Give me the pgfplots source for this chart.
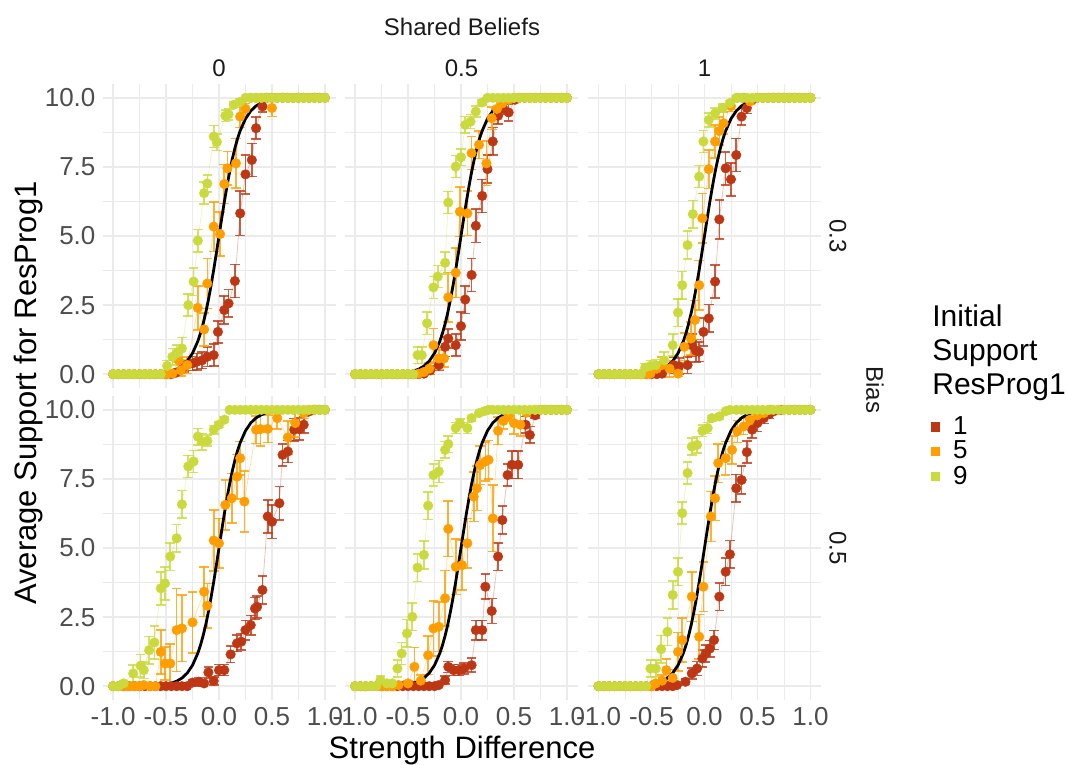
\documentclass[border=0pt]{standalone}
\usepackage{fontspec}
\setmainfont{Liberation Sans}
\usepackage{pgfplots}
\pgfplotsset{compat=1.18}
\definecolor{cA}{RGB}{190,55,20}
\definecolor{cB}{RGB}{255,158,0}
\definecolor{cC}{RGB}{202,218,60}
\definecolor{gridc}{RGB}{235,235,235}
\definecolor{tickc}{RGB}{77,77,77}
\definecolor{stripc}{RGB}{26,26,26}

\pgfplotsset{
  panel/.style={scale only axis, width=116.5pt, height=152pt,
    xmin=-1.1, xmax=1.1, ymin=-0.5, ymax=10.5,
    axis line style={draw=none}, tick style={draw=none},
    xtick={-1,-0.5,0,0.5,1}, ytick={0,2.5,5,7.5,10},
    minor xtick={-0.75,-0.25,0.25,0.75}, minor ytick={1.25,3.75,6.25,8.75},
    grid=both, major grid style={color=gridc, line width=0.7pt},
    minor grid style={color=gridc, line width=0.35pt},
    xticklabels={}, yticklabels={},
    tick label style={font=\fontsize{13}{13}\selectfont, text=tickc},
    anchor=south west},
  ylab/.style={yticklabels={0.0,2.5,5.0,7.5,10.0}},
  xlab/.style={xticklabels={-1.0,-0.5,0.0,0.5,1.0}},
  ser/.style={color=#1, line width=0.4pt, draw opacity=0.3, mark=*, mark size=2.4pt,
    mark options={draw opacity=1, fill opacity=1, line width=0.2pt},
    error bars/y dir=both, error bars/y explicit, error bars/error mark=-,
    error bars/error bar style={line width=0.8pt, draw opacity=0.8},
    error bars/error mark options={rotate=90, line width=0.8pt, mark size=2.4pt, draw opacity=0.8}},
  theo/.style={black, line width=1.4pt, no marks},
}

% theoretical curve, same in every panel
\newcommand{\theocurve}{%
\addplot[theo, forget plot] coordinates {
(-1,0.0005) (-0.8,0.0034) (-0.6,0.0247) (-0.5,0.0669) (-0.45,0.1099) (-0.4,0.1799)
(-0.35,0.2931) (-0.3,0.4743) (-0.25,0.7586) (-0.2,1.192) (-0.175,1.480) (-0.15,1.824)
(-0.125,2.227) (-0.1,2.689) (-0.075,3.208) (-0.05,3.775) (-0.025,4.378) (0,5)
(0.025,5.622) (0.05,6.225) (0.075,6.792) (0.1,7.311) (0.125,7.773) (0.15,8.176)
(0.175,8.520) (0.2,8.808) (0.25,9.241) (0.3,9.526) (0.35,9.707) (0.4,9.820)
(0.45,9.890) (0.5,9.933) (0.6,9.975) (0.8,9.997) (1,10)
};}

\begin{document}
\begin{tikzpicture}
\path[use as bounding box] (0,0) rectangle (533.5pt,382.5pt);

% ---------- row 1: Bias 0.3 ----------
\begin{axis}[panel, ylab, at={(51.25pt,188.5pt)}]
\addplot[ser=cA, forget plot] coordinates {
(-1,0)(-0.95,0)(-0.9,0)(-0.85,0)(-0.8,0)(-0.75,0)(-0.7,0)(-0.65,0)(-0.6,0)(-0.55,0)(-0.5,0)(-0.45,0)
(-0.41,0.05) +- (0,0.1) (-0.33,0.27) +- (0,0.2) (-0.25,0.39) +- (0,0.25) (-0.21,0.45) +- (0,0.3)
(-0.16,0.5) +- (0,0.3) (-0.11,0.63) +- (0,0.35) (-0.05,0.69) +- (0,0.4) (-0.01,1.53) +- (0,0.4)
(0.05,2.32) +- (0,0.5) (0.09,2.56) +- (0,0.5) (0.15,3.37) +- (0,0.6) (0.20,5.82) +- (0,0.8)
(0.25,7.23) +- (0,0.7) (0.31,7.75) +- (0,0.6) (0.35,8.9) +- (0,0.4) (0.41,9.69) +- (0,0.2)
(0.45,10)(0.5,10)(0.55,10)(0.6,10)(0.65,10)(0.7,10)(0.75,10)(0.8,10)(0.85,10)(0.9,10)(0.95,10)(1,10)
};
\addplot[ser=cB, forget plot] coordinates {
(-1,0)(-0.95,0)(-0.9,0)(-0.85,0)(-0.8,0)(-0.75,0)(-0.7,0)(-0.65,0)(-0.6,0)(-0.55,0)(-0.5,0)
(-0.44,0.02) +- (0,0.1) (-0.38,0.5) +- (0,0.4) (-0.36,0.14) +- (0,0.2) (-0.30,0.33) +- (0,0.3)
(-0.20,2.4) +- (0,0.8) (-0.14,1.62) +- (0,0.6) (-0.11,3.28) +- (0,0.9) (-0.05,5.34) +- (0,0.9)
(0.01,5.07) +- (0,0.8) (0.05,6.88) +- (0,0.7) (0.08,7.45) +- (0,0.6) (0.16,7.63) +- (0,0.9)
(0.20,9.32) +- (0,0.4) (0.25,9.6) +- (0,0.2) (0.30,10) (0.35,10) (0.40,10) (0.45,10)
(0.50,9.63) +- (0,0.3) (0.55,10)(0.6,10)(0.65,10)(0.7,10)(0.75,10)(0.8,10)(0.85,10)(0.9,10)(0.95,10)(1,10)
};
\addplot[ser=cC, forget plot] coordinates {
(-1,0)(-0.95,0)(-0.9,0)(-0.85,0)(-0.8,0)(-0.75,0)(-0.7,0)(-0.65,0)(-0.6,0)(-0.55,0)
(-0.49,0.3) +- (0,0.2) (-0.44,0.63) +- (0,0.3) (-0.40,0.75) +- (0,0.3) (-0.35,0.93) +- (0,0.4)
(-0.29,2.5) +- (0,0.4) (-0.24,3.35) +- (0,0.5) (-0.20,4.83) +- (0,0.4) (-0.14,6.55) +- (0,0.4)
(-0.11,6.9) +- (0,0.3) (-0.05,8.6) +- (0,0.4) (-0.02,8.4) +- (0,0.3) (0.06,9.35) +- (0,0.2)
(0.09,9.4) +- (0,0.2) (0.14,9.75) +- (0,0.1) (0.20,9.85) +- (0,0.1)
(0.25,10)(0.3,10)(0.35,10)(0.4,10)(0.45,10)(0.5,10)(0.55,10)(0.6,10)(0.65,10)(0.7,10)(0.75,10)(0.8,10)(0.85,10)(0.9,10)(0.95,10)(1,10)
};
\theocurve
\end{axis}

\begin{axis}[panel, at={(172.25pt,188.5pt)}]
\addplot[ser=cA, forget plot] coordinates {
(-1,0)(-0.95,0)(-0.9,0)(-0.85,0)(-0.8,0)(-0.75,0)(-0.7,0)(-0.65,0)(-0.6,0)(-0.55,0)(-0.5,0)(-0.45,0)(-0.4,0)
(-0.35,0.02) (-0.29,0.14) +- (0,0.15) (-0.21,0.33) +- (0,0.2) (-0.15,0.99) +- (0,0.35)
(-0.12,1.29) +- (0,0.35) (-0.05,1.05) +- (0,0.4) (0.00,1.74) +- (0,0.5) (0.04,2.7) +- (0,0.5)
(0.10,3.59) +- (0,0.6) (0.14,5.37) +- (0,0.6) (0.20,6.45) +- (0,0.6) (0.25,7.42) +- (0,0.5)
(0.30,8.42) +- (0,0.5) (0.35,9.35) +- (0,0.3) (0.40,9.6) +- (0,0.2) (0.45,9.47) +- (0,0.3)
(0.51,9.93) +- (0,0.1)
(0.55,10)(0.6,10)(0.65,10)(0.7,10)(0.75,10)(0.8,10)(0.85,10)(0.9,10)(0.95,10)(1,10)
};
\addplot[ser=cB, forget plot] coordinates {
(-1,0)(-0.95,0)(-0.9,0)(-0.85,0)(-0.8,0)(-0.75,0)(-0.7,0)(-0.65,0)(-0.6,0)(-0.55,0)(-0.5,0)(-0.45,0)
(-0.40,0.02) (-0.35,0.08) +- (0,0.1) (-0.30,0.2) +- (0,0.2) (-0.26,1.05) +- (0,0.6)
(-0.21,0.57) +- (0,0.4) (-0.16,0.57) +- (0,0.3) (-0.12,2.78) +- (0,0.9) (-0.05,3.67) +- (0,0.9)
(-0.01,5.88) +- (0,0.9) (0.06,5.82) +- (0,0.8) (0.10,8.0) +- (0,0.6) (0.17,8.3) +- (0,0.5)
(0.24,7.63) +- (0,0.8) (0.29,9.26) +- (0,0.4) (0.34,9.6) +- (0,0.3) (0.39,9.8) +- (0,0.2)
(0.45,9.93) +- (0,0.1)
(0.5,10)(0.55,10)(0.6,10)(0.65,10)(0.7,10)(0.75,10)(0.8,10)(0.85,10)(0.9,10)(0.95,10)(1,10)
};
\addplot[ser=cC, forget plot] coordinates {
(-1,0)(-0.95,0)(-0.9,0)(-0.85,0)(-0.8,0)(-0.75,0)(-0.7,0)(-0.65,0)(-0.6,0)(-0.55,0)(-0.5,0)(-0.45,0)
(-0.41,0.69) +- (0,0.3) (-0.37,0.69) +- (0,0.3) (-0.32,1.84) +- (0,0.4) (-0.26,3.14) +- (0,0.4)
(-0.22,3.53) +- (0,0.4) (-0.15,4.03) +- (0,0.4) (-0.12,6.21) +- (0,0.4) (-0.05,7.51) +- (0,0.4)
(0.00,7.85) +- (0,0.3) (0.04,9.02) +- (0,0.3) (0.09,9.14) +- (0,0.25) (0.14,9.5) +- (0,0.2)
(0.20,9.83) +- (0,0.1)
(0.25,10)(0.3,10)(0.35,10)(0.4,10)(0.45,10)(0.5,10)(0.55,10)(0.6,10)(0.65,10)(0.7,10)(0.75,10)(0.8,10)(0.85,10)(0.9,10)(0.95,10)(1,10)
};
\theocurve
\end{axis}

\begin{axis}[panel, at={(294pt,188.5pt)},
  legend style={at={(axis description cs:1.470,-0.088)}, anchor=north west, draw=none, fill=none,
    inner sep=0pt, row sep=1pt, font=\fontsize{13}{13}\selectfont,
    nodes={inner ysep=0.5pt, inner xsep=2pt},
    /tikz/every odd column/.append style={column sep=4.75pt}},
  legend cell align=left]
\addplot[ser=cA, forget plot] coordinates {
(-1,0)(-0.95,0)(-0.9,0)(-0.85,0)(-0.8,0)(-0.75,0)(-0.7,0)(-0.65,0)(-0.6,0)(-0.55,0)(-0.5,0)(-0.45,0)
(-0.40,0.02) (-0.29,0.33) +- (0,0.3) (-0.24,0.29) +- (0,0.3) (-0.16,0.33) +- (0,0.3)
(-0.12,1.05) +- (0,0.4) (-0.08,0.85) +- (0,0.4) (-0.05,0.81) +- (0,0.35) (-0.01,1.53) +- (0,0.5)
(0.04,2.02) +- (0,0.5) (0.10,3.35) +- (0,0.6) (0.14,5.6) +- (0,0.7) (0.20,7.45) +- (0,0.6)
(0.25,7.05) +- (0,0.6) (0.30,7.93) +- (0,0.6) (0.35,9.32) +- (0,0.3) (0.40,9.63) +- (0,0.2)
(0.45,9.93) +- (0,0.1)
(0.5,10)(0.55,10)(0.6,10)(0.65,10)(0.7,10)(0.75,10)(0.8,10)(0.85,10)(0.9,10)(0.95,10)(1,10)
};
\addplot[ser=cB, forget plot] coordinates {
(-1,0)(-0.95,0)(-0.9,0)(-0.85,0)(-0.8,0)(-0.75,0)(-0.7,0)(-0.65,0)(-0.6,0)(-0.55,0)
(-0.51,0.02) (-0.45,0.2) +- (0,0.2) (-0.40,0.33) +- (0,0.3) (-0.33,0.2) +- (0,0.3)
(-0.25,0.02) +- (0,0.1) (-0.19,0.99) +- (0,0.5) (-0.13,1.29) +- (0,0.6) (-0.09,1.96) +- (0,0.7)
(-0.05,3.22) +- (0,0.9) (-0.02,5.64) +- (0,0.9) (0.04,7.42) +- (0,0.7) (0.10,8.42) +- (0,0.6)
(0.14,8.8) +- (0,0.5) (0.18,9.08) +- (0,0.4) (0.25,9.7) +- (0,0.2) (0.31,10) (0.37,10)
(0.43,9.87) +- (0,0.1)
(0.5,10)(0.55,10)(0.6,10)(0.65,10)(0.7,10)(0.75,10)(0.8,10)(0.85,10)(0.9,10)(0.95,10)(1,10)
};
\addplot[ser=cC, forget plot] coordinates {
(-1,0)(-0.95,0)(-0.9,0)(-0.85,0)(-0.8,0)(-0.75,0)(-0.7,0)(-0.65,0)(-0.6,0)
(-0.56,0.24) +- (0,0.15) (-0.51,0.3) +- (0,0.2) (-0.46,0.33) +- (0,0.2) (-0.38,0.5) +- (0,0.3)
(-0.30,1.05) +- (0,0.4) (-0.25,2.23) +- (0,0.5) (-0.21,3.22) +- (0,0.5) (-0.16,4.67) +- (0,0.5)
(-0.11,5.79) +- (0,0.5) (-0.05,7.15) +- (0,0.4) (-0.01,8.42) +- (0,0.4) (0.04,9.2) +- (0,0.25)
(0.10,9.44) +- (0,0.2) (0.17,9.63) +- (0,0.15) (0.24,9.81) +- (0,0.1)
(0.3,10)(0.35,10)(0.4,10)(0.45,10)(0.5,10)(0.55,10)(0.6,10)(0.65,10)(0.7,10)(0.75,10)(0.8,10)(0.85,10)(0.9,10)(0.95,10)(1,10)
};
\theocurve
\addlegendimage{only marks, mark=square*, mark size=2.2pt, color=cA}
\addlegendentry{1}
\addlegendimage{only marks, mark=square*, mark size=2.2pt, color=cB}
\addlegendentry{5}
\addlegendimage{only marks, mark=square*, mark size=2.2pt, color=cC}
\addlegendentry{9}
\end{axis}

% ---------- row 2: Bias 0.5 ----------
\begin{axis}[panel, ylab, xlab, at={(51.25pt,32.5pt)}]
\addplot[ser=cA, forget plot] coordinates {
(-1,0)(-0.95,0)(-0.9,0)(-0.85,0)(-0.8,0)(-0.75,0)(-0.7,0)(-0.65,0)(-0.6,0)(-0.55,0)(-0.5,0)(-0.45,0)(-0.4,0)(-0.35,0)(-0.3,0)
(-0.25,0.13) +- (0,0.1) (-0.19,0.16) +- (0,0.15) (-0.14,0.1) (-0.10,0.5) +- (0,0.2)
(-0.05,0.19) +- (0,0.15) (0.00,0.58) +- (0,0.2) (0.05,0.58) +- (0,0.2) (0.11,1.15) +- (0,0.3)
(0.17,1.55) +- (0,0.3) (0.21,1.61) +- (0,0.3) (0.25,2.03) +- (0,0.35) (0.30,2.21) +- (0,0.35)
(0.34,2.81) +- (0,0.4) (0.36,2.87) +- (0,0.4) (0.41,3.48) +- (0,0.5) (0.46,6.14) +- (0,0.6)
(0.50,5.95) +- (0,0.6) (0.57,6.62) +- (0,0.6) (0.60,8.37) +- (0,0.4) (0.65,8.49) +- (0,0.4)
(0.71,9.28) +- (0,0.4) (0.76,9.3) +- (0,0.4) (0.80,9.46) +- (0,0.3) (0.85,9.94) +- (0,0.1)
(0.9,10)(0.95,10)(1,10)
};
\addplot[ser=cB, forget plot] coordinates {
(-1,0)(-0.95,0)(-0.9,0)(-0.85,0)(-0.8,0)(-0.75,0)(-0.71,0.04)(-0.65,0)(-0.6,0)
(-0.55,1.24) +- (0,0.8) (-0.51,0.82) +- (0,0.6) (-0.46,0.82) +- (0,0.7) (-0.40,2.03) +- (0,1.5)
(-0.35,2.09) +- (0,1.2) (-0.25,2.31) +- (0,1.1) (-0.14,3.42) +- (0,0.9) (-0.11,2.91) +- (0,0.8)
(-0.05,5.27) +- (0,1.1) (0.00,5.17) +- (0,0.9) (0.06,6.56) +- (0,0.9) (0.12,6.8) +- (0,0.9)
(0.17,7.58) +- (0,0.8) (0.20,8.25) +- (0,0.6) (0.24,6.68) +- (0,1.1) (0.35,9.28) +- (0,0.5)
(0.39,9.3) +- (0,0.6) (0.46,9.31) +- (0,0.5) (0.55,9.7) +- (0,0.4) (0.65,9.0) +- (0,0.6)
(0.72,9.52) +- (0,0.5) (0.80,9.88) +- (0,0.2)
(0.85,10)(0.9,10)(0.95,10)(1,10)
};
\addplot[ser=cC, forget plot] coordinates {
(-1,0)(-0.95,0)
(-0.90,0.1) +- (0,0.1) (-0.81,0.46) +- (0,0.3) (-0.74,0.74) +- (0,0.4) (-0.71,0.58) +- (0,0.3)
(-0.66,1.3) +- (0,0.5) (-0.61,1.58) +- (0,0.6) (-0.55,3.54) +- (0,0.6) (-0.51,3.72) +- (0,0.6)
(-0.46,4.69) +- (0,0.5) (-0.40,5.35) +- (0,0.5) (-0.35,6.58) +- (0,0.5) (-0.29,7.95) +- (0,0.4)
(-0.24,8.13) +- (0,0.4) (-0.20,9.03) +- (0,0.3) (-0.16,8.85) +- (0,0.3) (-0.11,8.88) +- (0,0.2)
(-0.05,9.28) +- (0,0.15) (0.00,9.46) +- (0,0.1) (0.05,9.64) +- (0,0.1)
(0.1,10)(0.15,10)(0.2,10)(0.25,10)(0.3,10)(0.35,10)(0.4,10)(0.45,10)(0.5,10)(0.55,10)(0.6,10)(0.65,10)(0.7,10)(0.75,10)(0.8,10)(0.85,10)(0.9,10)(0.95,10)(1,10)
};
\theocurve
\end{axis}

\begin{axis}[panel, xlab, at={(172.25pt,32.5pt)}]
\addplot[ser=cA, forget plot] coordinates {
(-1,0)(-0.95,0)(-0.9,0)(-0.85,0)(-0.8,0)(-0.75,0)(-0.7,0)(-0.65,0)(-0.6,0)(-0.55,0)(-0.5,0)(-0.45,0)(-0.4,0)(-0.35,0)(-0.3,0)(-0.25,0)
(-0.21,0.04) (-0.15,0.22) +- (0,0.15) (-0.12,0.7) +- (0,0.2) (-0.07,0.58) +- (0,0.2)
(-0.02,0.58) +- (0,0.2) (0.03,0.64) +- (0,0.2) (0.10,0.76) +- (0,0.25) (0.14,2.03) +- (0,0.35)
(0.20,2.03) +- (0,0.35) (0.23,3.6) +- (0,0.45) (0.29,2.72) +- (0,0.45) (0.35,4.69) +- (0,0.5)
(0.39,6.01) +- (0,0.5) (0.44,7.64) +- (0,0.4) (0.48,8.01) +- (0,0.5) (0.54,8.01) +- (0,0.5)
(0.61,9.46) +- (0,0.3) (0.65,9.09) +- (0,0.3) (0.70,9.8) +- (0,0.1)
(0.75,10)(0.8,10)(0.85,10)(0.9,10)(0.95,10)(1,10)
};
\addplot[ser=cB, forget plot] coordinates {
(-1,0)(-0.95,0)(-0.9,0)(-0.85,0)(-0.8,0)(-0.75,0)(-0.7,0)(-0.65,0)
(-0.59,0.04) (-0.50,0.1) +- (0,0.1) (-0.44,0.7) +- (0,0.7) (-0.38,0.2) +- (0,0.2)
(-0.31,1.12) +- (0,0.7) (-0.26,2.09) +- (0,1.0) (-0.21,2.15) +- (0,0.9) (-0.15,3.18) +- (0,1.0)
(-0.12,5.69) +- (0,1.0) (-0.05,4.32) +- (0,1.0) (0.01,4.38) +- (0,0.9) (0.06,5.17) +- (0,0.9)
(0.12,6.86) +- (0,0.9) (0.15,7.16) +- (0,0.8) (0.18,8.0) +- (0,0.7) (0.23,8.13) +- (0,0.7)
(0.26,8.19) +- (0,0.7) (0.30,6.07) +- (0,1.2) (0.35,9.24) +- (0,0.5) (0.40,9.6) +- (0,0.3)
(0.45,9.8) +- (0,0.2) (0.50,9.52) +- (0,0.4) (0.56,9.46) +- (0,0.4) (0.62,9.9) +- (0,0.1)
(0.7,10)(0.75,10)(0.8,10)(0.85,10)(0.9,10)(0.95,10)(1,10)
};
\addplot[ser=cC, forget plot] coordinates {
(-1,0)(-0.95,0)(-0.9,0)(-0.85,0)(-0.8,0)
(-0.76,0.22) +- (0,0.15) (-0.70,0.1) (-0.65,0.1) (-0.60,0.64) +- (0,0.3) (-0.56,1.18) +- (0,0.4)
(-0.51,1.91) +- (0,0.5) (-0.46,2.51) +- (0,0.5) (-0.41,4.29) +- (0,0.5) (-0.35,4.75) +- (0,0.5)
(-0.31,6.53) +- (0,0.5) (-0.26,7.64) +- (0,0.4) (-0.21,7.77) +- (0,0.4) (-0.15,8.55) +- (0,0.3)
(-0.12,8.76) +- (0,0.3) (-0.05,9.34) +- (0,0.2) (-0.01,9.52) +- (0,0.15) (0.06,9.34) +- (0,0.2)
(0.10,9.7) +- (0,0.1) (0.17,9.88) (0.22,9.95)
(0.26,10)(0.3,10)(0.35,10)(0.4,10)(0.45,10)(0.5,10)(0.55,10)(0.6,10)(0.65,10)(0.7,10)(0.75,10)(0.8,10)(0.85,10)(0.9,10)(0.95,10)(1,10)
};
\theocurve
\end{axis}

\begin{axis}[panel, xlab, at={(294pt,32.5pt)}]
\addplot[ser=cA, forget plot] coordinates {
(-1,0)(-0.95,0)(-0.9,0)(-0.85,0)(-0.8,0)(-0.75,0)(-0.7,0)(-0.65,0)(-0.6,0)(-0.55,0)(-0.5,0)(-0.45,0)(-0.4,0)(-0.35,0)(-0.3,0)
(-0.26,0.04) (-0.18,0.16) +- (0,0.1) (-0.12,0.46) +- (0,0.2) (-0.07,0.64) +- (0,0.25)
(-0.02,1.0) +- (0,0.3) (0.01,1.18) +- (0,0.3) (0.05,1.36) +- (0,0.3) (0.09,1.67) +- (0,0.35)
(0.14,3.24) +- (0,0.5) (0.20,4.14) +- (0,0.5) (0.24,4.77) +- (0,0.5) (0.30,7.16) +- (0,0.5)
(0.35,7.46) +- (0,0.5) (0.40,8.47) +- (0,0.4) (0.45,9.28) +- (0,0.3) (0.50,9.52) +- (0,0.3)
(0.56,9.7) +- (0,0.2) (0.61,9.84) +- (0,0.15) (0.65,9.94) +- (0,0.1)
(0.72,10)(0.8,10)(0.85,10)(0.9,10)(0.95,10)(1,10)
};
\addplot[ser=cB, forget plot] coordinates {
(-1,0)(-0.95,0)(-0.9,0)(-0.85,0)(-0.8,0)(-0.75,0)(-0.7,0)(-0.65,0)(-0.6,0)(-0.55,0)(-0.5,0)
(-0.46,0.1) +- (0,0.1) (-0.40,0.2) +- (0,0.2) (-0.36,0.58) +- (0,0.4) (-0.30,0.3) +- (0,0.3)
(-0.25,1.24) +- (0,0.7) (-0.21,1.67) +- (0,0.8) (-0.12,3.24) +- (0,0.9) (-0.05,1.79) +- (0,0.8)
(-0.01,3.6) +- (0,0.9) (0.06,6.14) +- (0,0.9) (0.10,6.8) +- (0,0.8) (0.13,8.07) +- (0,0.7)
(0.20,8.25) +- (0,0.6) (0.26,8.55) +- (0,0.5) (0.31,9.22) +- (0,0.4) (0.37,9.4) +- (0,0.3)
(0.43,9.64) +- (0,0.2) (0.50,9.8) +- (0,0.1) (0.56,9.88)
(0.62,10)(0.7,10)(0.75,10)(0.8,10)(0.85,10)(0.9,10)(0.95,10)(1,10)
};
\addplot[ser=cC, forget plot] coordinates {
(-1,0)(-0.95,0)(-0.9,0)(-0.85,0)(-0.8,0)(-0.75,0)(-0.7,0)(-0.65,0)(-0.6,0)(-0.55,0)
(-0.51,0.64) +- (0,0.3) (-0.46,0.64) +- (0,0.3) (-0.41,1.34) +- (0,0.5) (-0.35,1.97) +- (0,0.5)
(-0.30,3.3) +- (0,0.5) (-0.25,4.14) +- (0,0.5) (-0.21,6.26) +- (0,0.4) (-0.16,7.71) +- (0,0.4)
(-0.12,8.67) +- (0,0.3) (-0.07,8.73) +- (0,0.3) (-0.02,9.24) +- (0,0.2) (0.03,9.34) +- (0,0.2)
(0.07,9.7) +- (0,0.1) (0.14,9.76) +- (0,0.1) (0.20,9.95)
(0.24,10)(0.3,10)(0.35,10)(0.4,10)(0.45,10)(0.5,10)(0.55,10)(0.6,10)(0.65,10)(0.7,10)(0.75,10)(0.8,10)(0.85,10)(0.9,10)(0.95,10)(1,10)
};
\theocurve
\end{axis}

% ---------- strips, titles, legend title ----------
\node[font=\fontsize{12}{12}\selectfont, text=stripc] at (231pt,369pt) {Shared Beliefs};
\node[font=\fontsize{12}{12}\selectfont, text=stripc] at (109.5pt,348.5pt) {0};
\node[font=\fontsize{12}{12}\selectfont, text=stripc] at (230.75pt,348.5pt) {0.5};
\node[font=\fontsize{12}{12}\selectfont, text=stripc] at (352.25pt,348.5pt) {1};
\node[font=\fontsize{12}{12}\selectfont, text=stripc, rotate=-90] at (419pt,264.5pt) {0.3};
\node[font=\fontsize{12}{12}\selectfont, text=stripc, rotate=-90] at (419pt,108.5pt) {0.5};
\node[font=\fontsize{12}{12}\selectfont, text=stripc, rotate=-90] at (437.5pt,187.5pt) {Bias};
\node[font=\fontsize{15.5}{15.5}\selectfont, rotate=90] at (14pt,186pt) {Average Support for ResProg1};
\node[font=\fontsize{15.5}{15.5}\selectfont, anchor=base] at (231pt,3pt) {Strength Difference};
\node[font=\fontsize{15}{17}\selectfont, anchor=base west, align=left, inner sep=0pt] at (466pt,185pt) {Initial\\Support\\ResProg1};
\end{tikzpicture}
\end{document}
